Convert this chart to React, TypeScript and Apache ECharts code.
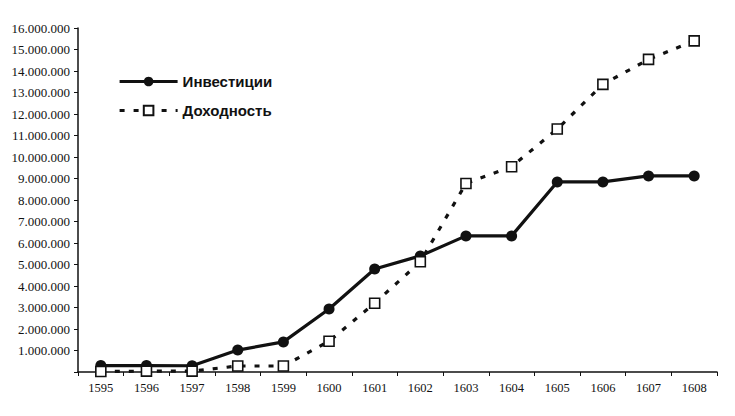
import React, { useEffect, useRef } from "react";
import * as echarts from "echarts";

const years = ["1595","1596","1597","1598","1599","1600","1601","1602","1603","1604","1605","1606","1607","1608"];
const investments = [300000, 300000, 290000, 1020000, 1400000, 2930000, 4790000, 5400000, 6330000, 6330000, 8840000, 8840000, 9120000, 9120000];
const returns = [20000, 40000, 40000, 280000, 280000, 1430000, 3200000, 5130000, 8770000, 9550000, 11300000, 13380000, 14540000, 15400000];
const seriesNames = ["Инвестиции", "Доходность"];

const fmt = (v: number) => (v === 0 ? "" : String(v).replace(/\B(?=(\d{3})+(?!\d))/g, "."));

export default function App() {
  const ref = useRef<HTMLDivElement>(null);
  useEffect(() => {
    const chart = echarts.init(ref.current!, null, { renderer: "svg" });
    const serif = "Liberation Serif";
    chart.setOption({
      animation: false,
      backgroundColor: "#ffffff",
      grid: { left: 70, right: 10, top: 20, bottom: 36, containLabel: false },
      legend: {
        orient: "vertical",
        left: 105,
        top: 61,
        itemWidth: 58,
        itemHeight: 12,
        itemGap: 14,
        lineStyle: { width: 3.2 },
        textStyle: { fontFamily: "Liberation Sans", fontWeight: "bold", fontSize: 15, color: "#111" },
        data: seriesNames,
      },
      xAxis: {
        type: "category",
        data: years,
        boundaryGap: true,
        axisLine: { lineStyle: { color: "#111", width: 1.5 } },
        axisTick: { show: true, alignWithLabel: false, length: 4, lineStyle: { color: "#111" } },
        axisLabel: { fontFamily: serif, fontSize: 12.5, color: "#111", margin: 9 },
        splitLine: { show: false },
      },
      yAxis: {
        type: "value",
        min: 0,
        max: 16000000,
        interval: 1000000,
        axisLine: { show: true, lineStyle: { color: "#111", width: 1.5 } },
        axisTick: { show: true, length: 4, lineStyle: { color: "#111" } },
        axisLabel: { fontFamily: serif, fontSize: 13, color: "#111", margin: 8, formatter: fmt },
        splitLine: { show: false },
      },
      series: [
        {
          name: seriesNames[0],
          type: "line",
          data: investments,
          symbol: "circle",
          symbolSize: 11,
          itemStyle: { color: "#111" },
          lineStyle: { color: "#111", width: 3.2 },
        },
        {
          name: seriesNames[1],
          type: "line",
          data: returns,
          symbol: "rect",
          symbolSize: 10,
          itemStyle: { color: "#fff", borderColor: "#111", borderWidth: 1.6 },
          lineStyle: { color: "#111", width: 3.2, type: [5, 9] },
        },
      ],
    });
    return () => chart.dispose();
  }, []);
  return <div ref={ref} style={{ width: 719, height: 400 }} />;
}
